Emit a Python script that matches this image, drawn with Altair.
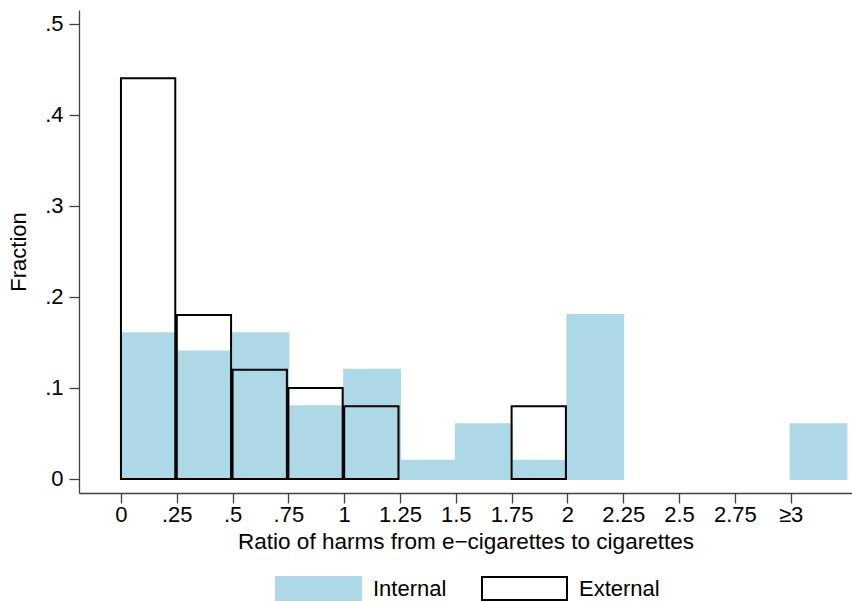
import altair as alt
import pandas as pd

# ---- data ----
bin_start = [0, 0.25, 0.5, 0.75, 1.0, 1.25, 1.5, 1.75, 2.0, 2.25, 2.5, 2.75, 3.0]
bin_width = 0.25
internal = [0.16, 0.14, 0.16, 0.08, 0.12, 0.02, 0.06, 0.02, 0.18, 0, 0, 0, 0.06]
external = [0.44, 0.18, 0.12, 0.10, 0.08, 0, 0, 0.08, 0, 0, 0, 0, 0]
groups = ["Internal", "External"]

x_tick_values = [0, 0.25, 0.5, 0.75, 1, 1.25, 1.5, 1.75, 2, 2.25, 2.5, 2.75, 3]
x_tick_labels = ["0", ".25", ".5", ".75", "1", "1.25", "1.5", "1.75", "2", "2.25", "2.5", "2.75", "≥3"]
y_tick_values = [0, 0.1, 0.2, 0.3, 0.4, 0.5]
y_tick_labels = ["0", ".1", ".2", ".3", ".4", ".5"]

rows = []
for name, vals in zip(groups, [internal, external]):
    for s, v in zip(bin_start, vals):
        if v > 0:
            rows.append({"group": name, "start": s, "end": s + bin_width, "frac": v})
df = pd.DataFrame(rows)


def label_expr(values, labels):
    expr = "''"
    for v, l in reversed(list(zip(values, labels))):
        expr = f"(abs(datum.value - {v}) < 1e-6 ? '{l}' : {expr})"
    return expr


FONT = "Liberation Sans"
FS = 22
x_scale = alt.Scale(domain=[-0.188, 3.275], nice=False, zero=False)
y_scale = alt.Scale(domain=[-0.0154, 0.515], nice=False, zero=False)

legend = alt.Legend(
    title=None,
    orient="none",
    legendX=196,
    legendY=535,
    direction="horizontal",
    symbolType="M-1,-0.27L1,-0.27L1,0.27L-1,0.27Z",
    symbolSize=7225,
    symbolStrokeWidth=2,
    labelFontSize=FS,
    labelFont=FONT,
    labelColor="black",
    labelOffset=11,
    columnPadding=31,
    padding=0,
)

fill_scale = alt.Scale(domain=groups, range=["#ADD8E6", "transparent"])
stroke_scale = alt.Scale(domain=groups, range=["#ADD8E6", "#000000"])

x_enc = alt.X(
    "start:Q",
    scale=x_scale,
    axis=alt.Axis(
        values=x_tick_values,
        labelExpr=label_expr(x_tick_values, x_tick_labels),
        title="Ratio of harms from e−cigarettes to cigarettes",
        labelPadding=1,
        titlePadding=5,
        titleFontSize=22.5,
    ),
)
y_enc = alt.Y(
    "frac:Q",
    scale=y_scale,
    axis=alt.Axis(
        values=y_tick_values,
        labelExpr=label_expr(y_tick_values, y_tick_labels),
        title="Fraction",
        labelPadding=6,
        titlePadding=14,
    ),
)

base = alt.Chart(df).encode(
    x=x_enc,
    x2="end:Q",
    y=y_enc,
    y2=alt.datum(0),
    fill=alt.Fill("group:N", scale=fill_scale, legend=legend),
    stroke=alt.Stroke("group:N", scale=stroke_scale, legend=legend),
)

internal_layer = base.transform_filter(alt.datum.group == "Internal").mark_rect(strokeWidth=2)
external_layer = base.transform_filter(alt.datum.group == "External").mark_rect(
    strokeWidth=2, x2Offset=-1.5
)

chart = (
    alt.layer(internal_layer, external_layer)
    .properties(
        width=773,
        height=483,
        autosize=alt.AutoSizeParams(type="none"),
        padding={"left": 79, "top": 10, "right": 0, "bottom": 108},
        background="white",
    )
    .configure_view(stroke=None)
    .configure_axis(
        grid=False,
        domainColor="#404040",
        domainWidth=1.3,
        tickColor="#404040",
        tickWidth=1.3,
        tickSize=10,
        labelFont=FONT,
        labelFontSize=FS,
        labelColor="black",
        labelAngle=0,
        titleFont=FONT,
        titleFontSize=FS,
        titleFontWeight="normal",
        titleColor="black",
    )
)

chart.save("out.html", embed_options={"renderer": "svg", "actions": False})
